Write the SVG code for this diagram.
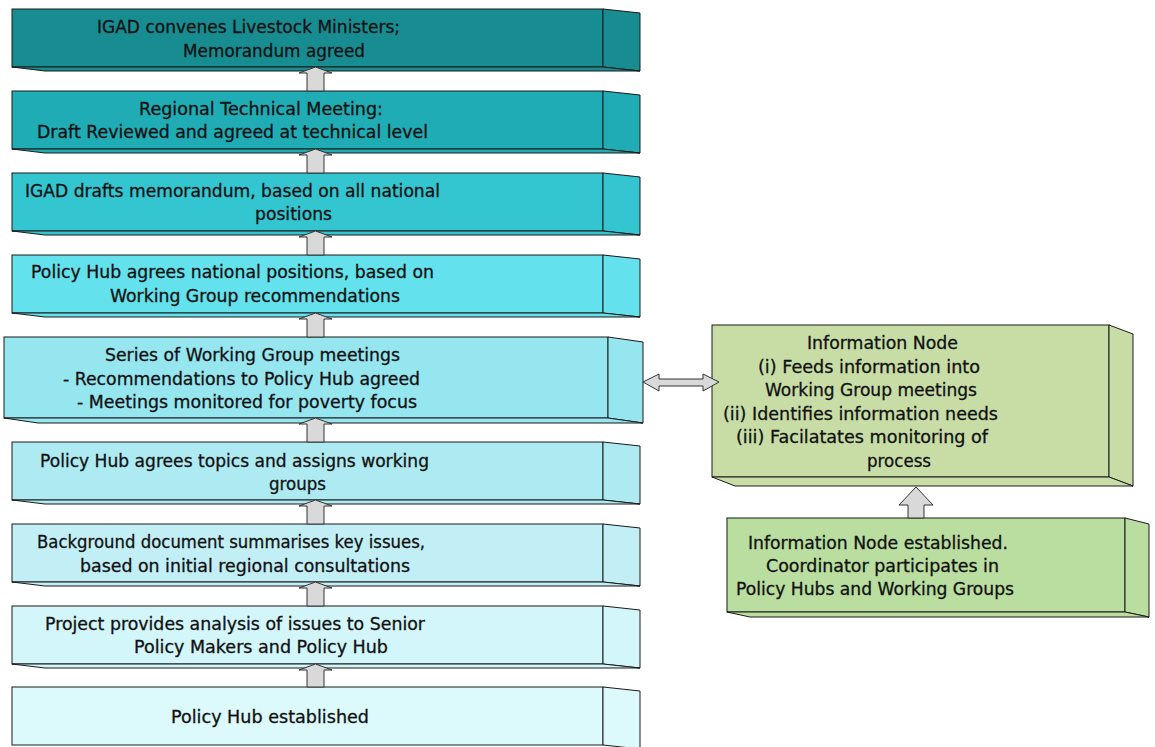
<svg xmlns="http://www.w3.org/2000/svg" width="1155" height="747" viewBox="0 0 1155 747">
<style>
.f{stroke:#1a1a1a;stroke-width:1;stroke-linejoin:miter}
.t{font-family:"DejaVu Sans","Liberation Sans",sans-serif;font-size:17px;fill:#111;stroke:#111;stroke-width:0.3}
.ar{fill:#d9d9d9;stroke:#333;stroke-width:1}
</style>
<rect width="1155" height="747" fill="#ffffff"/>
<g id="n1">
<rect class="f" x="12" y="9" width="591" height="58" fill="#178d91"/>
<polygon class="f" points="603,9 640,13 640,71 603,67" fill="#178d91"/>
<polygon class="f" points="12,67 603,67 640,71 45,71" fill="#178d91"/>
<text class="t" x="97" y="33" textLength="303" lengthAdjust="spacingAndGlyphs">IGAD convenes Livestock Ministers;</text>
<text class="t" x="183" y="57" textLength="182" lengthAdjust="spacingAndGlyphs">Memorandum agreed</text>
</g>
<g id="n2">
<rect class="f" x="12" y="91" width="591" height="58" fill="#1facb4"/>
<polygon class="f" points="603,91 640,95 640,153 603,149" fill="#1facb4"/>
<polygon class="f" points="12,149 603,149 640,153 45,153" fill="#1facb4"/>
<text class="t" x="139" y="115" textLength="244" lengthAdjust="spacingAndGlyphs">Regional Technical Meeting:</text>
<text class="t" x="37" y="138" textLength="391" lengthAdjust="spacingAndGlyphs">Draft Reviewed and agreed at technical level</text>
</g>
<g id="n3">
<rect class="f" x="12" y="173" width="591" height="58" fill="#33c6d0"/>
<polygon class="f" points="603,173 640,177 640,235 603,231" fill="#33c6d0"/>
<polygon class="f" points="12,231 603,231 640,235 45,235" fill="#33c6d0"/>
<text class="t" x="25" y="197" textLength="415" lengthAdjust="spacingAndGlyphs">IGAD drafts memorandum, based on all national</text>
<text class="t" x="255" y="220" textLength="77" lengthAdjust="spacingAndGlyphs">positions</text>
</g>
<g id="n4">
<rect class="f" x="12" y="255" width="591" height="58" fill="#63e1ec"/>
<polygon class="f" points="603,255 640,259 640,317 603,313" fill="#63e1ec"/>
<polygon class="f" points="12,313 603,313 640,317 45,317" fill="#63e1ec"/>
<text class="t" x="31" y="278" textLength="403" lengthAdjust="spacingAndGlyphs">Policy Hub agrees national positions, based on</text>
<text class="t" x="110" y="302" textLength="290" lengthAdjust="spacingAndGlyphs">Working Group recommendations</text>
</g>
<g id="n5">
<rect class="f" x="4" y="337" width="604" height="81" fill="#96e6f0"/>
<polygon class="f" points="608,337 643,342 643,423 608,418" fill="#96e6f0"/>
<polygon class="f" points="4,418 608,418 643,423 38,423" fill="#96e6f0"/>
<text class="t" x="105" y="361" textLength="295" lengthAdjust="spacingAndGlyphs">Series of Working Group meetings</text>
<text class="t" x="63" y="385" textLength="357" lengthAdjust="spacingAndGlyphs">- Recommendations to Policy Hub agreed</text>
<text class="t" x="77" y="408" textLength="340" lengthAdjust="spacingAndGlyphs">- Meetings monitored for poverty focus</text>
</g>
<g id="n6">
<rect class="f" x="12" y="442" width="591" height="58" fill="#adeaf1"/>
<polygon class="f" points="603,442 640,446 640,504 603,500" fill="#adeaf1"/>
<polygon class="f" points="12,500 603,500 640,504 45,504" fill="#adeaf1"/>
<text class="t" x="40" y="467" textLength="389" lengthAdjust="spacingAndGlyphs">Policy Hub agrees topics and assigns working</text>
<text class="t" x="269" y="490" textLength="57" lengthAdjust="spacingAndGlyphs">groups</text>
</g>
<g id="n7">
<rect class="f" x="12" y="524" width="591" height="58" fill="#c2eff6"/>
<polygon class="f" points="603,524 640,528 640,586 603,582" fill="#c2eff6"/>
<polygon class="f" points="12,582 603,582 640,586 45,586" fill="#c2eff6"/>
<text class="t" x="37" y="548" textLength="388" lengthAdjust="spacingAndGlyphs">Background document summarises key issues,</text>
<text class="t" x="80" y="572" textLength="330" lengthAdjust="spacingAndGlyphs">based on initial regional consultations</text>
</g>
<g id="n8">
<rect class="f" x="12" y="606" width="591" height="58" fill="#d3f6fa"/>
<polygon class="f" points="603,606 640,610 640,668 603,664" fill="#d3f6fa"/>
<polygon class="f" points="12,664 603,664 640,668 45,668" fill="#d3f6fa"/>
<text class="t" x="45" y="630" textLength="380" lengthAdjust="spacingAndGlyphs">Project provides analysis of issues to Senior</text>
<text class="t" x="134" y="653" textLength="254" lengthAdjust="spacingAndGlyphs">Policy Makers and Policy Hub</text>
</g>
<g id="n9">
<rect class="f" x="12" y="687" width="591" height="58" fill="#dcf9fc"/>
<polygon class="f" points="603,687 640,691 640,749 603,745" fill="#dcf9fc"/>
<text class="t" x="171" y="723" textLength="198" lengthAdjust="spacingAndGlyphs">Policy Hub established</text>
</g>
<g id="n10">
<rect class="f" x="712" y="325" width="397" height="152" fill="#c8dda6"/>
<polygon class="f" points="1109,325 1133,334 1133,486 1109,477" fill="#c8dda6"/>
<polygon class="f" points="712,477 1109,477 1133,486 735,486" fill="#c8dda6"/>
<text class="t" x="807" y="349" textLength="151" lengthAdjust="spacingAndGlyphs">Information Node</text>
<text class="t" x="758" y="373" textLength="222" lengthAdjust="spacingAndGlyphs">(i) Feeds information into</text>
<text class="t" x="765" y="396" textLength="212" lengthAdjust="spacingAndGlyphs">Working Group meetings</text>
<text class="t" x="723" y="420" textLength="275" lengthAdjust="spacingAndGlyphs">(ii) Identifies information needs</text>
<text class="t" x="736" y="443" textLength="252" lengthAdjust="spacingAndGlyphs">(iii) Facilatates monitoring of</text>
<text class="t" x="867" y="467" textLength="64" lengthAdjust="spacingAndGlyphs">process</text>
</g>
<g id="n11">
<rect class="f" x="727" y="518" width="398" height="94" fill="#badda0"/>
<polygon class="f" points="1125,518 1149,524 1149,617 1125,612" fill="#badda0"/>
<polygon class="f" points="727,612 1125,612 1149,617 750,617" fill="#badda0"/>
<text class="t" x="748" y="549" textLength="260" lengthAdjust="spacingAndGlyphs">Information Node established.</text>
<text class="t" x="766" y="572" textLength="233" lengthAdjust="spacingAndGlyphs">Coordinator participates in</text>
<text class="t" x="736" y="595" textLength="278" lengthAdjust="spacingAndGlyphs">Policy Hubs and Working Groups</text>
</g>
<g id="connectors">
<polygon class="ar" points="315.5,67 332,73 324,73 324,91 307,91 307,73 299,73"/>
<polygon class="ar" points="315.5,149 332,155 324,155 324,173 307,173 307,155 299,155"/>
<polygon class="ar" points="315.5,231 332,237 324,237 324,255 307,255 307,237 299,237"/>
<polygon class="ar" points="315.5,313 332,319 324,319 324,337 307,337 307,319 299,319"/>
<polygon class="ar" points="315.5,418 332,424 324,424 324,442 307,442 307,424 299,424"/>
<polygon class="ar" points="315.5,500 332,506 324,506 324,524 307,524 307,506 299,506"/>
<polygon class="ar" points="315.5,582 332,588 324,588 324,606 307,606 307,588 299,588"/>
<polygon class="ar" points="315.5,664 332,670 324,670 324,687 307,687 307,670 299,670"/>
<polygon class="ar" points="643,382 659,374 659,379 703,379 703,374 719,382 703,391 703,386 659,386 659,391"/>
<polygon class="ar" points="916,487 933,505 924,505 924,518 908,518 908,505 899,505"/>
</g>
</svg>
